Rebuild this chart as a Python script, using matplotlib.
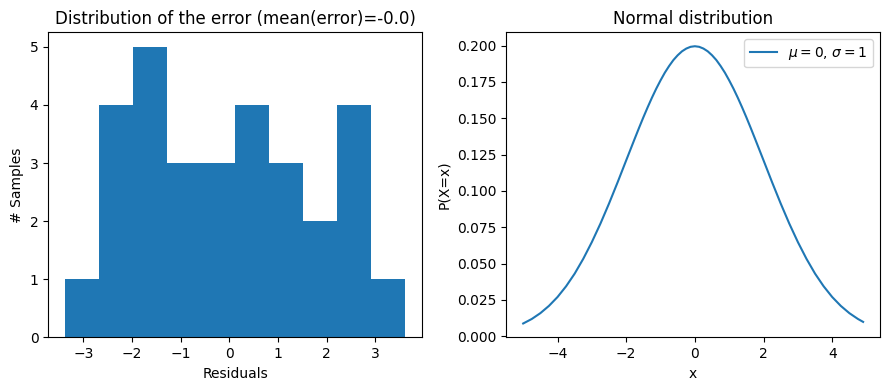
#!/usr/bin/env python3
"""plot: residual histogram next to a normal density curve"""

import matplotlib

matplotlib.use("Agg")
import matplotlib.pyplot as plt

# histogram: bin edges and counts
bin_edges = [-3.37, -2.67, -1.97, -1.28, -0.58, 0.12, 0.82, 1.52, 2.21, 2.91, 3.61]
bin_counts = [1, 4, 5, 3, 3, 4, 3, 2, 4, 1]

# density curve (denser near the peak)
curve_x = [
    -5.0, -4.75, -4.5, -4.25, -4.0, -3.75, -3.5, -3.25, -3.0, -2.75,
    -2.5, -2.25, -2.0, -1.875, -1.75, -1.625, -1.5, -1.375, -1.25, -1.125,
    -1.0, -0.875, -0.75, -0.625, -0.5, -0.375, -0.25, -0.125,
    0.0, 0.125, 0.25, 0.375, 0.5, 0.625, 0.75, 0.875,
    1.0, 1.125, 1.25, 1.375, 1.5, 1.625, 1.75, 1.875, 2.0, 2.25,
    2.5, 2.75, 3.0, 3.25, 3.5, 3.75, 4.0, 4.25, 4.5, 4.75, 4.9,
]
curve_y = [
    0.0088, 0.0119, 0.0159, 0.0209, 0.0270, 0.0344, 0.0431, 0.0533, 0.0648, 0.0775,
    0.0913, 0.1059, 0.1210, 0.1285, 0.1360, 0.1434, 0.1506, 0.1575, 0.1641, 0.1703,
    0.1760, 0.1813, 0.1859, 0.1900, 0.1933, 0.1960, 0.1979, 0.1991,
    0.1995, 0.1991, 0.1979, 0.1960, 0.1933, 0.1900, 0.1859, 0.1813,
    0.1760, 0.1703, 0.1641, 0.1575, 0.1506, 0.1434, 0.1360, 0.1285, 0.1210, 0.1059,
    0.0913, 0.0775, 0.0648, 0.0533, 0.0431, 0.0344, 0.0270, 0.0209, 0.0159, 0.0119, 0.0099,
]


def main():
    """main: execution block"""
    fig, (ax1, ax2) = plt.subplots(1, 2, figsize=(8.89, 3.9), dpi=100)
    fig.subplots_adjust(left=0.0543, right=0.990, bottom=0.135, top=0.917, wspace=0.2246)

    ax1.hist(bin_edges[:-1], bins=bin_edges, weights=bin_counts, color="#1f77b4")
    ax1.set_title("Distribution of the error (mean(error)=-0.0)")
    ax1.set_xlabel("Residuals")
    ax1.set_ylabel("# Samples")

    ax2.plot(curve_x, curve_y, color="#1f77b4", label=r"$\mu=0$, $\sigma=1$")
    ax2.set_title("Normal distribution")
    ax2.set_xlabel("x")
    ax2.set_ylabel("P(X=x)")
    ax2.legend(loc="upper right")

    plt.savefig("out.png")
    plt.close()


if __name__ == "__main__":
    main()
